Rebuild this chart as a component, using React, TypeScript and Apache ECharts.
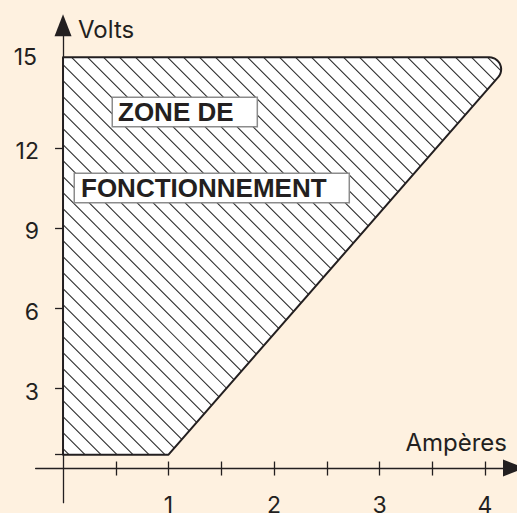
import React, { useEffect, useRef } from "react";
import * as echarts from "echarts";

// ---- data ----
const ZONE_I = [0, 1, 4.29, 0]; // Ampères
const ZONE_V = [0.5, 0.5, 15.4, 15.4]; // Volts
const ROUNDED_VERTEX = 2;
const X_TICKS = [0.5, 1, 1.5, 2, 2.5, 3, 3.5, 4];
const X_LABELS = [1, 2, 3, 4];
const Y_TICKS = [0.5, 3, 6, 9, 12];
const Y_LABELS = [3, 6, 9, 12];
const Y_TOP_LABEL_VALUE = 15.4;
const Y_TOP_LABEL_TEXT = "15";
const ZONE_TEXT = ["ZONE DE", "FONCTIONNEMENT"];
const X_NAME = "Ampères";
const Y_NAME = "Volts";
const X_RANGE = [-0.26, 4.275];
const Y_RANGE = [-1.3, 16.6];

// ---- style ----
const BG = "#fef1e0";
const INK = "#231f20";
const FONT = "Inter, 'Liberation Sans', Arial, sans-serif";
const BOLD_FONT = "'Liberation Sans', Arial, Helvetica, sans-serif";
const HATCH_SPACING = 16;
const HATCH_PHASE = 14.3;
const CORNER_RADIUS = 12;

type Pt = number[];

function roundCorner(pts: Pt[], idx: number, r: number, steps = 12): Pt[] {
  const n = pts.length;
  const P = pts[idx];
  const A = pts[(idx - 1 + n) % n];
  const B = pts[(idx + 1) % n];
  const nrm = (v: Pt) => {
    const l = Math.hypot(v[0], v[1]);
    return [v[0] / l, v[1] / l];
  };
  const u1 = nrm([A[0] - P[0], A[1] - P[1]]);
  const u2 = nrm([B[0] - P[0], B[1] - P[1]]);
  const theta = Math.acos(u1[0] * u2[0] + u1[1] * u2[1]);
  const d = r / Math.tan(theta / 2);
  const T1 = [P[0] + u1[0] * d, P[1] + u1[1] * d];
  const T2 = [P[0] + u2[0] * d, P[1] + u2[1] * d];
  const bis = nrm([u1[0] + u2[0], u1[1] + u2[1]]);
  const h = r / Math.sin(theta / 2);
  const C = [P[0] + bis[0] * h, P[1] + bis[1] * h];
  const a1 = Math.atan2(T1[1] - C[1], T1[0] - C[0]);
  const a2 = Math.atan2(T2[1] - C[1], T2[0] - C[0]);
  let da = a2 - a1;
  while (da > Math.PI) da -= 2 * Math.PI;
  while (da < -Math.PI) da += 2 * Math.PI;
  const arc: Pt[] = [];
  for (let s = 0; s <= steps; s++) {
    const a = a1 + (da * s) / steps;
    arc.push([C[0] + r * Math.cos(a), C[1] + r * Math.sin(a)]);
  }
  return [...pts.slice(0, idx), ...arc, ...pts.slice(idx + 1)];
}

function hatchLines(poly: Pt[], spacing: number, phase: number): Pt[][] {
  const xs = poly.map((p) => p[0]);
  const ys = poly.map((p) => p[1]);
  const minX = Math.min(...xs), maxX = Math.max(...xs);
  const minY = Math.min(...ys), maxY = Math.max(...ys);
  const cx = xs.reduce((a, b) => a + b, 0) / xs.length;
  const cy = ys.reduce((a, b) => a + b, 0) / ys.length;
  const cMin = minX - maxY, cMax = maxX - minY;
  const out: Pt[][] = [];
  const k0 = Math.ceil((cMin - phase) / spacing);
  for (let c = phase + k0 * spacing; c <= cMax; c += spacing) {
    let t0 = minY - 1, t1 = maxY + 1;
    for (let i = 0; i < poly.length; i++) {
      const Pi = poly[i];
      const Pj = poly[(i + 1) % poly.length];
      let nx = -(Pj[1] - Pi[1]);
      let ny = Pj[0] - Pi[0];
      if (nx * (cx - Pi[0]) + ny * (cy - Pi[1]) < 0) {
        nx = -nx;
        ny = -ny;
      }
      const num = nx * (c - Pi[0]) + ny * (0 - Pi[1]);
      const den = nx + ny;
      if (Math.abs(den) < 1e-9) {
        if (num < 0) {
          t0 = 1;
          t1 = 0;
          break;
        }
        continue;
      }
      const t = -num / den;
      if (den > 0) t0 = Math.max(t0, t);
      else t1 = Math.min(t1, t);
    }
    if (t1 > t0) out.push([[c + t0, t0], [c + t1, t1]]);
  }
  return out;
}

const axisLineStyle = { color: INK, width: 1.3 };
const labelFont = { fontSize: 23, fontFamily: FONT, color: INK };

const option: any = {
  animation: false,
  backgroundColor: BG,
  grid: {
    left: 35.6,
    right: 3,
    top: 25.3,
    bottom: 10.3,
    containLabel: false,
    outerBoundsMode: "none",
  },
  xAxis: [
    {
      type: "value",
      min: X_RANGE[0],
      max: X_RANGE[1],
      position: "bottom",
      name: X_NAME,
      nameLocation: "end",
      nameGap: -7,
      nameTextStyle: {
        fontSize: 24,
        fontFamily: FONT,
        color: INK,
        align: "right",
        verticalAlign: "bottom",
        padding: [0, 0, 14, 0],
      },
      axisLine: {
        onZero: true,
        symbol: ["none", "triangle"],
        symbolSize: [17, 22],
        lineStyle: axisLineStyle,
      },
      axisTick: {
        show: true,
        inside: false,
        length: 7.5,
        customValues: X_TICKS,
        lineStyle: axisLineStyle,
      },
      axisLabel: {
        customValues: X_LABELS,
        margin: -9.2,
        ...labelFont,
      },
      splitLine: { show: false },
    },
    {
      type: "value",
      min: X_RANGE[0],
      max: X_RANGE[1],
      position: "bottom",
      axisLine: { show: false, onZero: true, onZeroAxisIndex: 0 },
      axisTick: {
        show: true,
        inside: true,
        length: 6.5,
        customValues: X_TICKS,
        lineStyle: axisLineStyle,
      },
      axisLabel: { show: false },
      splitLine: { show: false },
    },
  ],
  yAxis: [
    {
      type: "value",
      min: Y_RANGE[0],
      max: Y_RANGE[1],
      position: "left",
      name: Y_NAME,
      nameLocation: "end",
      nameGap: -4.2,
      nameTextStyle: {
        fontSize: 24,
        fontFamily: FONT,
        color: INK,
        align: "left",
        verticalAlign: "middle",
        padding: [0, 0, 0, 15],
      },
      axisLine: {
        onZero: true,
        symbol: ["none", "triangle"],
        symbolSize: [17, 22],
        lineStyle: axisLineStyle,
      },
      axisTick: {
        show: true,
        inside: false,
        length: 8,
        customValues: Y_TICKS,
        lineStyle: axisLineStyle,
      },
      axisLabel: {
        customValues: Y_LABELS,
        margin: -3.4,
        verticalAlign: "top",
        lineHeight: 7,
        ...labelFont,
      },
      splitLine: { show: false },
    },
    {
      type: "value",
      min: Y_RANGE[0],
      max: Y_RANGE[1],
      position: "left",
      axisLine: { show: false, onZero: true, onZeroAxisIndex: 0 },
      axisTick: { show: false },
      axisLabel: {
        customValues: [Y_TOP_LABEL_VALUE],
        formatter: () => Y_TOP_LABEL_TEXT,
        margin: -1.4,
        ...labelFont,
      },
      splitLine: { show: false },
    },
  ],
  series: [
    {
      type: "custom",
      coordinateSystem: "cartesian2d",
      xAxisIndex: 0,
      yAxisIndex: 0,
      clip: false,
      silent: true,
      data: [[ZONE_I[0], ZONE_V[0]]],
      renderItem: (_params: any, api: any) => {
        const pts = ZONE_I.map((x, i) => api.coord([x, ZONE_V[i]]));
        const outline = roundCorner(pts, ROUNDED_VERTEX, CORNER_RADIUS);
        const hatch = hatchLines(outline, HATCH_SPACING, HATCH_PHASE);
        return {
          type: "group",
          children: [
            {
              type: "polygon",
              shape: { points: outline },
              style: { fill: "#ffffff", stroke: "none" },
            },
            ...hatch.map(([a, b]) => ({
              type: "line",
              shape: { x1: a[0], y1: a[1], x2: b[0], y2: b[1] },
              style: { stroke: "#2a2a2a", lineWidth: 1.05 },
            })),
            {
              type: "polygon",
              shape: { points: outline },
              style: { fill: "none", stroke: INK, lineWidth: 2, lineJoin: "round" },
            },
          ],
        };
      },
    },
  ],
  graphic: [
    {
      type: "text",
      x: 113,
      y: 98,
      z: 100,
      style: {
        text: ZONE_TEXT[0],
        fontSize: 26,
        lineHeight: 26,
        fontWeight: "bold",
        fontFamily: BOLD_FONT,
        fill: INK,
        align: "left",
        verticalAlign: "top",
        backgroundColor: "#ffffff",
        borderColor: "#8c8c8c",
        borderWidth: 1.5,
        padding: [1, 23, 1, 5],
      },
    },
    {
      type: "text",
      x: 75,
      y: 174,
      z: 100,
      style: {
        text: ZONE_TEXT[1],
        fontSize: 26,
        lineHeight: 26,
        fontWeight: "bold",
        fontFamily: BOLD_FONT,
        fill: INK,
        align: "left",
        verticalAlign: "top",
        backgroundColor: "#ffffff",
        borderColor: "#8c8c8c",
        borderWidth: 1.5,
        padding: [1, 22, 1, 6],
      },
    },
  ],
};

export default function App() {
  const ref = useRef<HTMLDivElement>(null);
  useEffect(() => {
    const chart = echarts.init(ref.current!, null, { renderer: "svg" });
    chart.setOption(option);
    return () => chart.dispose();
  }, []);
  return (
    <div
      ref={ref}
      style={{ position: "fixed", left: 0, top: 0, width: 517, height: 513 }}
    />
  );
}
